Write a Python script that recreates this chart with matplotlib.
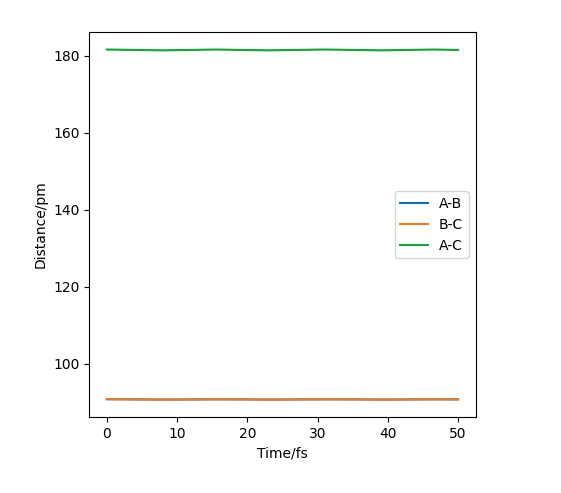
#!/usr/bin/env python3
"""
Plots interatomic distances over time for a three-atom trajectory.
"""
import matplotlib
matplotlib.use('Agg')
import matplotlib.pyplot as plt

time_fs = [0, 4, 8, 12, 15.5, 19, 23, 27, 31, 35, 39, 43, 46.5, 50]
dist_ab = [90.85, 90.80, 90.75, 90.78, 90.82, 90.80, 90.75, 90.78, 90.82, 90.80,
           90.75, 90.78, 90.82, 90.80]
dist_bc = [90.85, 90.80, 90.75, 90.78, 90.82, 90.80, 90.75, 90.78, 90.82, 90.80,
           90.75, 90.78, 90.82, 90.80]
dist_ac = [181.65, 181.55, 181.45, 181.55, 181.65, 181.55, 181.45, 181.55,
           181.65, 181.55, 181.45, 181.55, 181.65, 181.55]

fig = plt.figure(figsize=(5.61, 4.93), dpi=100)
ax = fig.add_axes([0.159, 0.154, 0.689, 0.781])

ax.plot(time_fs, dist_ab, color='#0c6ebd', label='A-B')
ax.plot(time_fs, dist_bc, color='#f07c22', label='B-C')
ax.plot(time_fs, dist_ac, color='#10a63a', label='A-C')

ax.set_xlabel('Time/fs')
ax.set_ylabel('Distance/pm')
ax.set_yticks([100, 120, 140, 160, 180])
ax.legend(loc='center right')

fig.savefig('out.png', dpi=100)
